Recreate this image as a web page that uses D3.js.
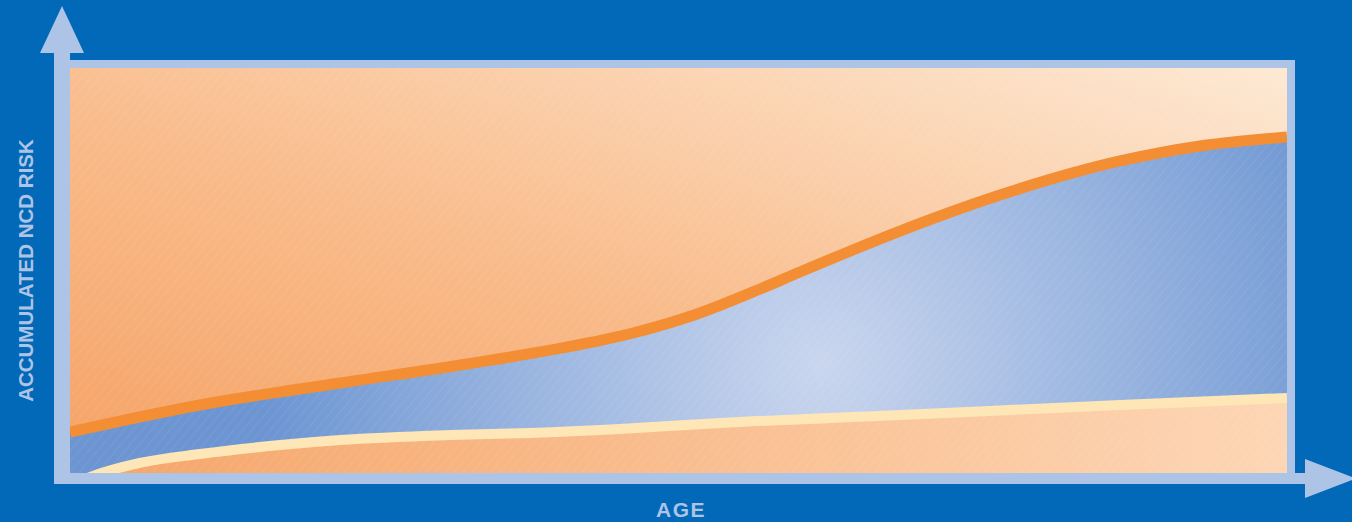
<!DOCTYPE html>
<html>
<head>
<meta charset="utf-8">
<script src="https://cdn.jsdelivr.net/npm/d3@7"></script>
<style>
  html, body { margin: 0; padding: 0; background: #0169b7; }
  svg { display: block; }
</style>
</head>
<body>
<svg id="chart" width="1352" height="522"></svg>
<script>
// ---- data (age on 0–100 scale, accumulated risk on 0–100 scale) ----
const ages      = [0, 10.68, 22.19, 32.62, 42.97, 46.26, 51.52, 56.70, 59.98, 68.20, 76.42, 86.28, 92.85, 100];
const upperRisk = [10.12, 16.79, 22.22, 26.91, 32.35, 34.57, 39.26, 45.43, 49.63, 59.75, 68.64, 77.04, 80.74, 82.96];
const lowerAges = [0, 1.64, 5.75, 10.68, 17.26, 22.19, 31.22, 37.80, 45.19, 53.41, 68.20, 86.28, 100];
const lowerRisk = [-3.2, -1.0, 2.5, 4.69, 6.91, 8.15, 9.38, 9.88, 10.86, 12.35, 14.32, 16.79, 18.52];
const xLabel = "AGE";
const yLabel = "ACCUMULATED NCD RISK";

const svg = d3.select("#chart");
const plot = { left: 70, right: 1287, top: 68, bottom: 473 };

const x = d3.scaleLinear().domain([0, 100]).range([plot.left, plot.right]);
const y = d3.scaleLinear().domain([0, 100]).range([plot.bottom, plot.top]);

const upper = ages.map((a, i) => ({ a, r: upperRisk[i] }));
const lower = lowerAges.map((a, i) => ({ a, r: lowerRisk[i] }));

const frameColor = "#aec4e6";
const defs = svg.append("defs");

// gradients
const gTop = defs.append("linearGradient").attr("id", "gTop")
  .attr("x1", "0%").attr("y1", "100%").attr("x2", "100%").attr("y2", "0%");
gTop.append("stop").attr("offset", "0%").attr("stop-color", "#f5a265");
gTop.append("stop").attr("offset", "45%").attr("stop-color", "#f9bc8c");
gTop.append("stop").attr("offset", "100%").attr("stop-color", "#fde9d4");

const gBot = defs.append("linearGradient").attr("id", "gBot")
  .attr("x1", "0%").attr("y1", "0%").attr("x2", "100%").attr("y2", "0%");
gBot.append("stop").attr("offset", "0%").attr("stop-color", "#f5a569");
gBot.append("stop").attr("offset", "100%").attr("stop-color", "#fdd6b5");

const gBlue = defs.append("radialGradient").attr("id", "gBlue")
  .attr("gradientUnits", "userSpaceOnUse")
  .attr("cx", 820).attr("cy", 365).attr("r", 560);
gBlue.append("stop").attr("offset", "0%").attr("stop-color", "#cad6ee");
gBlue.append("stop").attr("offset", "55%").attr("stop-color", "#97b3df");
gBlue.append("stop").attr("offset", "100%").attr("stop-color", "#6c95d2");

// subtle diagonal hatching
const pat = defs.append("pattern").attr("id", "hatch")
  .attr("patternUnits", "userSpaceOnUse").attr("width", 7).attr("height", 7)
  .attr("patternTransform", "rotate(40)");
pat.append("line").attr("x1", 0).attr("y1", 0).attr("x2", 0).attr("y2", 7)
  .attr("stroke", "#ffffff").attr("stroke-opacity", 0.07).attr("stroke-width", 2);

defs.append("clipPath").attr("id", "plotClip").append("rect")
  .attr("x", plot.left).attr("y", plot.top)
  .attr("width", plot.right - plot.left).attr("height", plot.bottom - plot.top);

// frame (axes)
svg.append("rect")
  .attr("x", 54).attr("y", 60)
  .attr("width", plot.right + 8 - 54).attr("height", 484 - 60)
  .attr("fill", frameColor);
svg.append("rect").attr("x", 54).attr("y", 50).attr("width", 16).attr("height", 20).attr("fill", frameColor);
svg.append("path").attr("d", "M40,53 L62,6 L84,53 Z").attr("fill", frameColor);
svg.append("rect").attr("x", plot.right).attr("y", 473).attr("width", 25).attr("height", 11).attr("fill", frameColor);
svg.append("path").attr("d", "M1305,459 L1356,478.5 L1305,498 Z").attr("fill", frameColor);

const g = svg.append("g").attr("clip-path", "url(#plotClip)");

g.append("rect")
  .attr("x", plot.left).attr("y", plot.top)
  .attr("width", plot.right - plot.left).attr("height", plot.bottom - plot.top)
  .attr("fill", "url(#gTop)");

const curve = d3.curveMonotoneX;
const lineFn = d3.line().x(d => x(d.a)).y(d => y(d.r)).curve(curve);
const areaFn = d3.area().x(d => x(d.a)).y0(y(-10)).y1(d => y(d.r)).curve(curve);

// blue band: area under upper curve (lower curve area drawn on top)
g.append("path").datum(upper).attr("d", areaFn).attr("fill", "url(#gBlue)");
// bottom area below lower curve
g.append("path").datum(lower).attr("d", areaFn).attr("fill", "url(#gBot)");

// hatching overlay
g.append("rect")
  .attr("x", plot.left).attr("y", plot.top)
  .attr("width", plot.right - plot.left).attr("height", plot.bottom - plot.top)
  .attr("fill", "url(#hatch)");

// lines
g.append("path").datum(lower).attr("d", lineFn)
  .attr("fill", "none").attr("stroke", "#fee6b6").attr("stroke-width", 10);
g.append("path").datum(upper).attr("d", lineFn)
  .attr("fill", "none").attr("stroke", "#f38e35").attr("stroke-width", 11);

// labels
svg.append("text")
  .attr("transform", `translate(33,${(plot.top + plot.bottom) / 2}) rotate(-90)`)
  .attr("text-anchor", "middle")
  .attr("font-family", "Liberation Sans, Arial, sans-serif")
  .attr("font-weight", "bold").attr("font-size", 20.5)
  .attr("fill", frameColor)
  .text(yLabel);

svg.append("text")
  .attr("x", 681).attr("y", 517)
  .attr("text-anchor", "middle")
  .attr("font-family", "Liberation Sans, Arial, sans-serif")
  .attr("font-weight", "bold").attr("font-size", 21)
  .attr("letter-spacing", 1.5)
  .attr("fill", frameColor)
  .text(xLabel);
</script>
</body>
</html>
